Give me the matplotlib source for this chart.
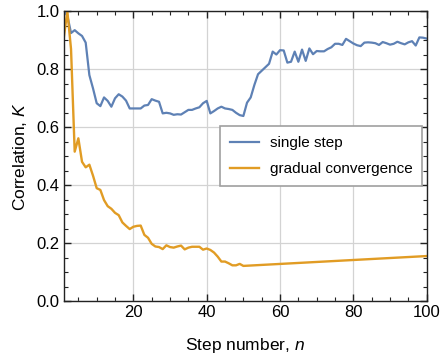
import numpy as np
import matplotlib
matplotlib.use("Agg")
import matplotlib.pyplot as plt
from matplotlib.ticker import MultipleLocator, FixedLocator

plt.rcParams['font.family'] = ['Liberation Sans', 'DejaVu Sans']
plt.rcParams['mathtext.fontset'] = 'custom'
plt.rcParams['mathtext.it'] = 'Liberation Sans:italic'
plt.rcParams['mathtext.rm'] = 'Liberation Sans'

# ---- data ----
single_n = list(range(1, 101))
single_step = [
    1.000, 0.985, 0.925, 0.935, 0.924, 0.915, 0.892, 0.780, 0.734, 0.683,
    0.673, 0.703, 0.691, 0.671, 0.700, 0.714, 0.706, 0.692, 0.665, 0.665,
    0.665, 0.665, 0.675, 0.677, 0.697, 0.692, 0.688, 0.648, 0.650, 0.648,
    0.643, 0.645, 0.644, 0.652, 0.660, 0.660, 0.665, 0.669, 0.683, 0.691,
    0.648, 0.656, 0.665, 0.671, 0.665, 0.663, 0.660, 0.650, 0.642, 0.639,
    0.685, 0.703, 0.746, 0.783, 0.795, 0.807, 0.819, 0.861, 0.851, 0.866,
    0.865, 0.823, 0.826, 0.861, 0.826, 0.868, 0.829, 0.872, 0.852, 0.863,
    0.862, 0.862, 0.870, 0.876, 0.888, 0.888, 0.884, 0.905, 0.897, 0.889,
    0.883, 0.880, 0.892, 0.893, 0.892, 0.890, 0.884, 0.894, 0.890, 0.885,
    0.888, 0.895, 0.890, 0.886, 0.893, 0.897, 0.882, 0.910, 0.909, 0.906,
]
gradual_n = list(range(1, 51)) + [100]
gradual = [
    0.907, 1.000, 0.870, 0.516, 0.562, 0.481, 0.462, 0.471, 0.433, 0.390,
    0.384, 0.349, 0.328, 0.319, 0.305, 0.297, 0.272, 0.260, 0.249, 0.257,
    0.260, 0.261, 0.229, 0.219, 0.198, 0.189, 0.187, 0.180, 0.193, 0.187,
    0.185, 0.189, 0.192, 0.179, 0.185, 0.188, 0.188, 0.188, 0.178, 0.182,
    0.177, 0.168, 0.154, 0.137, 0.137, 0.131, 0.124, 0.124, 0.129, 0.122,
    0.156,
]
x_ticks = [20, 40, 60, 80, 100]
y_ticks = [0.0, 0.2, 0.4, 0.6, 0.8, 1.0]
labels = ["single step", "gradual convergence"]

blue = '#5E81B5'
orange = '#E19C24'

fig = plt.figure(figsize=(4.42, 3.60), dpi=100)
ax = fig.add_axes([0.1441, 0.1631, 0.8213, 0.8055])

ax.plot(single_n, single_step, color=blue, lw=1.6, label=labels[0])
ax.plot(gradual_n, gradual, color=orange, lw=1.7, label=labels[1])

ax.set_xlim(1, 100)
ax.set_ylim(0, 1)
ax.xaxis.set_major_locator(FixedLocator(x_ticks))
ax.yaxis.set_major_locator(FixedLocator(y_ticks))
ax.xaxis.set_minor_locator(MultipleLocator(5))
ax.yaxis.set_minor_locator(MultipleLocator(0.05))
ax.set_yticklabels([f"{v:.1f}" for v in y_ticks])

ax.grid(True, which='major', color='#D3D3D3', lw=0.9)
ax.set_axisbelow(True)

for s in ax.spines.values():
    s.set_color('#222222')
    s.set_linewidth(1.0)

ax.tick_params(which='both', direction='in', top=True, right=True,
               color='#222222', labelsize=12, pad=3)
ax.tick_params(which='major', length=5, width=1.0)
ax.tick_params(which='minor', length=2.8, width=0.8)

ax.set_xlabel("Step number, $\\it{n}$", fontsize=12.5, labelpad=11)
ax.set_ylabel("Correlation, $\\it{K}$", fontsize=12.5, labelpad=5)

leg = ax.legend(loc='upper left', bbox_to_anchor=(0.4306, 0.6045),
                fontsize=11, frameon=True, fancybox=False,
                handlelength=1.9, borderpad=0.65, labelspacing=0.8,
                handletextpad=0.7, borderaxespad=0)
leg.get_frame().set_edgecolor('#A0A0A0')
leg.get_frame().set_linewidth(1.2)
leg.get_frame().set_alpha(1.0)

fig.savefig("out.png", dpi=100)
